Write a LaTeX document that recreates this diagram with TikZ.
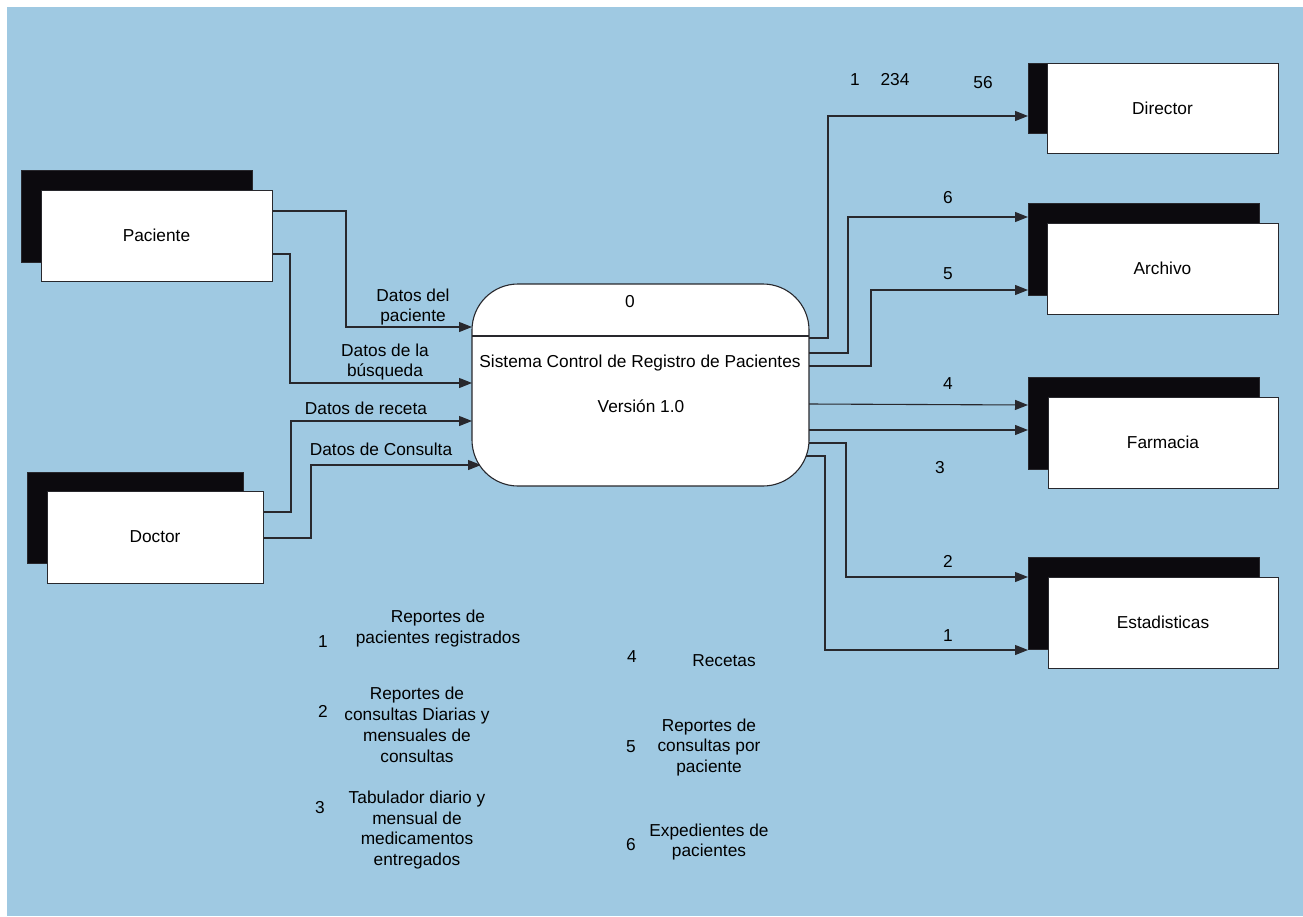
\documentclass[tikz,border=0pt]{standalone}
\usepackage{fontspec}
\setmainfont{Liberation Sans}
\usetikzlibrary{arrows.meta,calc}
\definecolor{bgblue}{RGB}{159,201,226}
\definecolor{edge}{RGB}{40,40,45}
\definecolor{shadowblack}{RGB}{12,10,14}
\begin{document}
\begin{tikzpicture}[x=1pt,y=-1pt,
  every node/.style={font=\fontsize{17.3}{20.8}\selectfont, inner sep=0pt, outer sep=0pt},
  entbox/.style={draw=edge, line width=1pt, fill=white, rectangle},
  shadowbox/.style={draw=edge, line width=0.6pt, fill=shadowblack, rectangle},
  flow/.style={draw=edge, line width=1.1pt, -{Triangle[length=13pt,width=10pt]}},
  lbl/.style={align=center, text=black}
]
\useasboundingbox (0,0) rectangle (1303,916);
\fill[white] (0,0) rectangle (1303,916);
\fill[bgblue] (7,7) rectangle (1303,916);

% shadows
\node[shadowbox, minimum width=231pt, minimum height=92pt] (pacS) at (136.5,216) {};
\node[shadowbox, minimum width=216pt, minimum height=91pt] (docS) at (135,517.5) {};
\node[shadowbox, minimum width=19pt, minimum height=70pt] (dirS) at (1037.5,98) {};
\node[shadowbox, minimum width=231pt, minimum height=92pt] (arcS) at (1143.5,249) {};
\node[shadowbox, minimum width=231pt, minimum height=92pt] (farS) at (1143.5,423) {};
\node[shadowbox, minimum width=231pt, minimum height=92pt] (estS) at (1143.5,603) {};

% entities
\node[entbox, minimum width=231pt, minimum height=91pt] (pac) at (156.5,235.5) {Paciente};
\node[entbox, minimum width=216pt, minimum height=92pt] (doc) at (155,537) {Doctor};
\node[entbox, minimum width=231pt, minimum height=90pt] (dir) at (1162.5,108) {Director};
\node[entbox, minimum width=231pt, minimum height=91pt] (arc) at (1162.5,268.5) {Archivo};
\node[entbox, minimum width=230pt, minimum height=91pt] (far) at (1163,442.5) {Farmacia};
\node[entbox, minimum width=230pt, minimum height=91pt] (est) at (1163,622.5) {Estadisticas};

% incoming connectors
\draw[flow] (pac.east |- 0,211) -- (346,211) -- (346,327) -- (472,327);
\draw[flow] (pac.east |- 0,254) -- (290,254) -- (290,383) -- (472,383);
\draw[flow] (doc.east |- 0,512) -- (291,512) -- (291,421) -- (472,421);
\draw[flow] (doc.east |- 0,538) -- (311,538) -- (311,465) -- (481,465);

% process
\node[draw=edge, line width=1.1pt, fill=white, rounded corners=46pt,
      minimum width=337pt, minimum height=202pt] (proc) at (640.5,385) {};
\draw[edge, line width=1.1pt] (proc.west |- 0,336) -- (proc.east |- 0,336);
\node (p0) at (630,302) {0};
\node (pname) at (640,363) {Sistema Control de Registro de Pacientes};
\node (pver) at (641,406) {Versión 1.0};

% outgoing
\draw[flow] (proc.east |- 0,338) -- (828,338) -- (828,116) -- (dirS.west |- 0,116);
\draw[flow] (proc.east |- 0,353) -- (848,353) -- (848,217) -- (arcS.west |- 0,217);
\draw[flow] (proc.east |- 0,366) -- (871,366) -- (871,290) -- (arcS.west |- 0,290);
\draw[flow] (proc.east |- 0,404) -- (farS.west |- 0,405);
\draw[flow] (proc.east |- 0,430) -- (farS.west |- 0,430);
\draw[flow] (proc.east |- 0,443) -- (846,443) -- (846,577) -- (estS.west |- 0,577);
\draw[flow] (806,456) -- (825,456) -- (825,650) -- (estS.west |- 0,650);

% flow labels (left)
\node[lbl] (l1) at (413,307) {Datos del\\paciente};
\node[lbl] (l2) at (385,362) {Datos de la\\búsqueda};
\node[lbl] (l3) at (366,408) {Datos de receta};
\node[lbl] (l4) at (381,449) {Datos de Consulta};

% flow labels (right)
\node (t1) at (855,80) {1};
\node (t234) at (895,80) {234};
\node (t56) at (983,83) {56};
\node (r6) at (948,198) {6};
\node (r5) at (948,274) {5};
\node (r4) at (948,384) {4};
\node (r3) at (940,468) {3};
\node (r2) at (948,561) {2};
\node (r1) at (948,636) {1};

% legend
\node (k1) at (323,642) {1};
\node[lbl] (d1) at (438,628.5) {Reportes de\\pacientes registrados};
\node (k2) at (323,711) {2};
\node[lbl] (d2) at (417,725) {Reportes de\\consultas Diarias y\\mensuales de\\consultas};
\node (k3) at (320,808) {3};
\node[lbl] (d3) at (417,830) {Tabulador diario y\\mensual de\\medicamentos\\entregados};
\node (k4) at (632,657) {4};
\node (d4) at (724,661) {Recetas};
\node (k5) at (631,747) {5};
\node[lbl] (d5) at (709,747.5) {Reportes de\\consultas por\\paciente};
\node (k6) at (631,845) {6};
\node[lbl] (d6) at (709,842) {Expedientes de\\pacientes};
\end{tikzpicture}
\end{document}
